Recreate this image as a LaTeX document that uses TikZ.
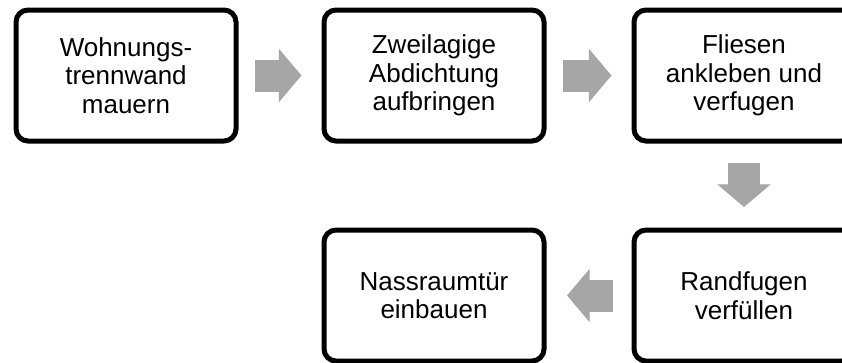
\documentclass[tikz,border=0pt]{standalone}
\usepackage{fontspec}
\setmainfont{Liberation Sans}
\usetikzlibrary{arrows.meta}
\definecolor{pfeilgrau}{RGB}{166,166,166}
\tikzset{
  schritt/.style={draw=black, line width=3.75pt, rounded corners=9pt,
    minimum width=165pt, minimum height=98.25pt, inner sep=0pt,
    align=center, font=\fontsize{19.5}{21.3}\selectfont},
  blockpfeil/.style={draw=pfeilgrau, line width=24pt,
    -{Triangle[length=17pt, width=40pt, line width=1pt]}}
}
\begin{document}
\begin{tikzpicture}[x=0.75pt, y=-0.75pt]
  \useasboundingbox (0, 0) rectangle (842, 362);
  % schritte
  \node [schritt] (wand) at (126, 75.5) {Wohnungs-\\trennwand\\mauern};
  \node [schritt] (abdichtung) at (434, 75.5) {Zweilagige\\Abdichtung\\aufbringen};
  \node [schritt] (fliesen) at (744, 75.5) {Fliesen\\ankleben und\\verfugen};
  \node [schritt] (randfugen) at (744, 295.5) {Randfugen\\verfüllen};
  \node [schritt] (tuer) at (434, 295.5) {Nassraumtür\\einbauen};
  % pfeile
  \draw [blockpfeil, shorten <=12.4pt, shorten >=15pt] (wand) -- (abdichtung);
  \draw [blockpfeil, shorten <=12.4pt, shorten >=15pt] (abdichtung) -- (fliesen);
  \draw [blockpfeil, shorten <=14.6pt, shorten >=15.4pt] (fliesen) -- (randfugen);
  \draw [blockpfeil, shorten <=13.9pt, shorten >=15.4pt] (randfugen) -- (tuer);
\end{tikzpicture}
\end{document}
